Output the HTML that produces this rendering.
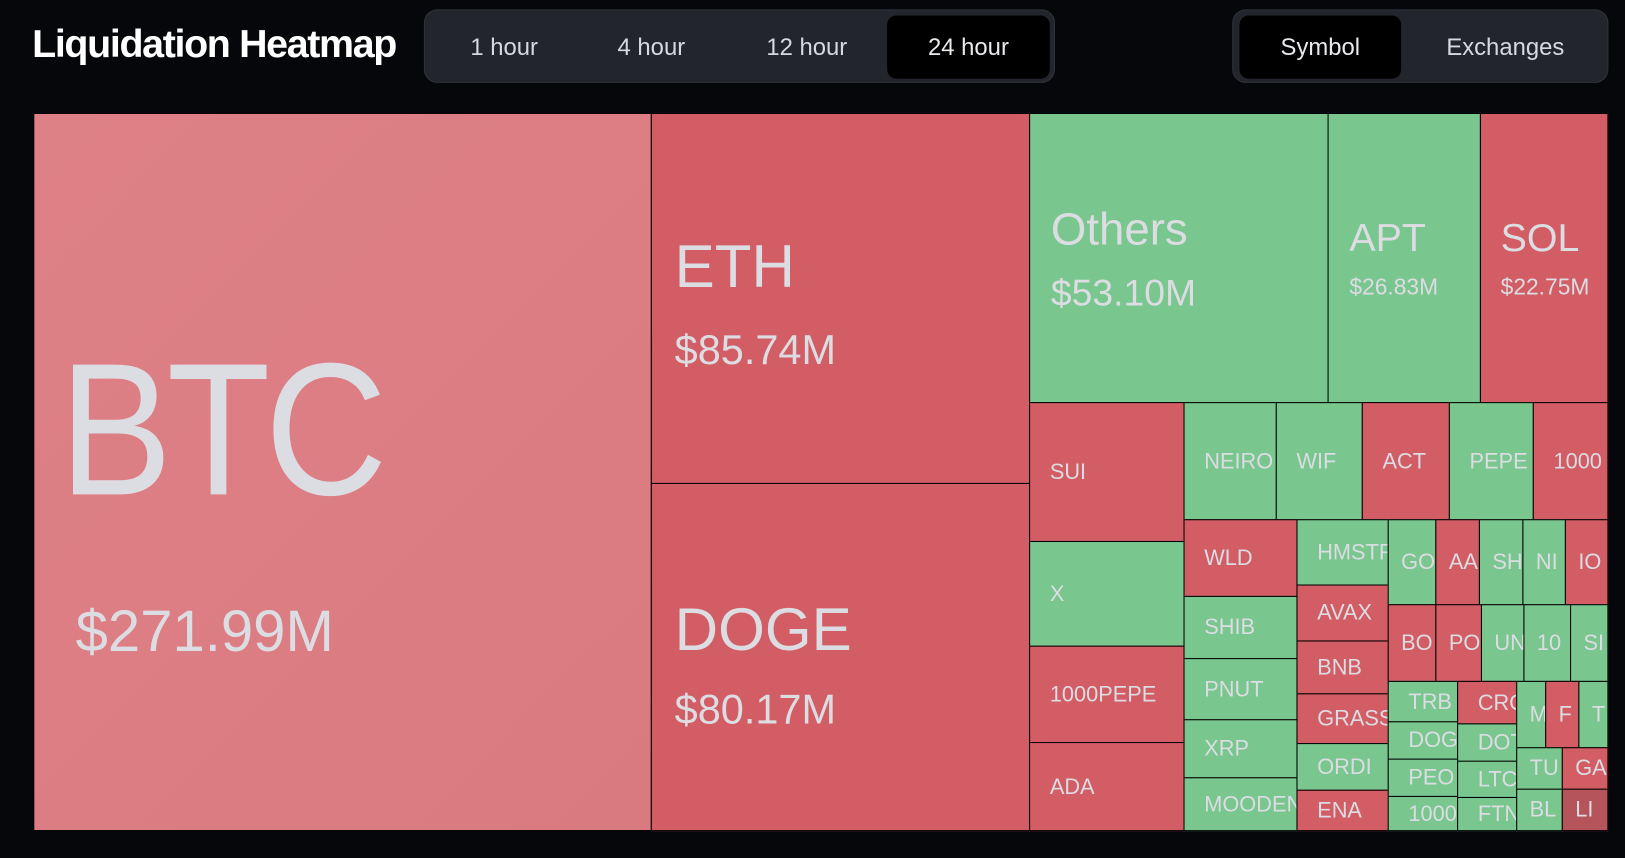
<!DOCTYPE html>
<html><head><meta charset="utf-8"><style>
html,body{margin:0;padding:0;background:#05070b;width:1625px;height:858px;overflow:hidden;font-family:"Liberation Sans",sans-serif}
#wrap{position:absolute;left:0;top:0;width:1568px;height:828px;transform:scale(1.03635);transform-origin:0 0}
.title{position:absolute;left:31px;top:22px;color:#fff;font-weight:bold;font-size:38px;letter-spacing:-1.3px}
.pill{position:absolute;background:#22252c;border:1px solid #30333a;border-radius:13px;box-sizing:border-box}
.btn{position:absolute;color:#d7d9de;font-size:23px;text-align:center;line-height:61px;top:5px;height:61px;border-radius:9px}
.btn.on{background:#000;color:#e8e9ec}
#map{position:absolute;left:0;top:0}
.cell{position:absolute;box-sizing:border-box;border:1px solid #000;overflow:hidden;color:#dcdde3;white-space:nowrap}
.lbl{position:absolute;left:19px}
</style></head><body>
<div id="wrap">
<div class="title">Liquidation Heatmap</div>
<div class="pill" style="left:409px;top:9px;width:609px;height:71px">
 <div class="btn" style="left:18px;width:117px">1 hour</div>
 <div class="btn" style="left:160px;width:117px">4 hour</div>
 <div class="btn" style="left:305px;width:127px">12 hour</div>
 <div class="btn on" style="left:446px;width:157px">24 hour</div>
</div>
<div class="pill" style="left:1189px;top:9px;width:363px;height:71px">
 <div class="btn on" style="left:6px;width:156px">Symbol</div>
 <div class="btn" style="left:180px;width:165px">Exchanges</div>
</div>
<div id="map"></div>
</div>
<script>
// symbol names, liquidation values (M$), direction (L = long red, S = short green)
const symbols = ["BTC","ETH","DOGE","Others","APT","SOL","SUI","X","1000PEPE","ADA","NEIRO","WIF","ACT","PEPE","1000SATS","WLD","SHIB","PNUT","XRP","MOODENG","HMSTR","AVAX","BNB","GRASS","ORDI","ENA","GOAT","AAVE","SHIB2","NEAR","IO","BOME","POL","UNI","1000BONK","SAND","TRB","DOGS","PEOPLE","1000LUNC","CRO","DOT","LTC","FTM","MEME","FIL","TIA","TURBO","GALA","BLUR","LINK"];
const values = [271.99,85.74,80.17,53.10,26.83,22.75];
const sides = ["Lb","L","L","S","S","L","L","S","L","L","S","S","L","S","L","L","S","S","S","S","S","L","L","L","S","L","S","L","S","S","L","L","L","S","S","S","S","S","S","S","L","S","S","S","S","L","S","S","L","S","Ld"];
const shown = ["BTC","ETH","DOGE","Others","APT","SOL","SUI","X","1000PEPE","ADA","NEIRO","WIF","ACT","PEPE","1000","WLD","SHIB","PNUT","XRP","MOODEN","HMSTR","AVAX","BNB","GRASS","ORDI","ENA","GO","AA","SH","NI","IO","BO","PO","UN","10","SI","TRB","DOG","PEO","1000","CRO","DOT","LTC","FTN","M","F","T","TU","GA","BL","LI"];
// layout rectangles [x0,y0,x1,y1] (treemap geometry)
const rects = [[32,109,628,801],[628,109,993,466],[628,466,993,801],[993,109,1281,388],[1281,109,1428,388],[1428,109,1551,388],
[993,388,1142,522],[993,522,1142,623],[993,623,1142,716],[993,716,1142,801],
[1142,388,1231,501],[1231,388,1314,501],[1314,388,1398,501],[1398,388,1479,501],[1479,388,1551,501],
[1142,501,1251,575],[1142,575,1251,635],[1142,635,1251,694],[1142,694,1251,750],[1142,750,1251,801],
[1251,501,1339,564],[1251,564,1339,618],[1251,618,1339,669],[1251,669,1339,717],[1251,717,1339,762],[1251,762,1339,801],
[1339,501,1385,583],[1385,501,1427,583],[1427,501,1469,583],[1469,501,1510,583],[1510,501,1551,583],
[1339,583,1385,657],[1385,583,1429,657],[1429,583,1470,657],[1470,583,1515,657],[1515,583,1551,657],
[1339,657,1406,696],[1339,696,1406,732],[1339,732,1406,768],[1339,768,1406,801],
[1406,657,1463,698],[1406,698,1463,734],[1406,734,1463,769],[1406,769,1463,801],
[1463,657,1491,721],[1491,657,1523,721],[1523,657,1551,721],
[1463,721,1507,761],[1507,721,1551,761],[1463,761,1507,801],[1507,761,1551,801]];
const colorOf = {Lb:"#dc7e84",L:"#d35d64",S:"#79c68e",Ld:"#b5545b"};
// big-cell label styles: [nameSize, nameTop, valSize, valTop, left]
const bigStyle = [[182,322,56,580,62],[58,228,40,317,22],[58,578,40,664,22],[44,199,36,264,20],[38,210,22,265,20],[38,210,22,265,19]];
const map = document.getElementById('map');
for (let i = 0; i < rects.length; i++) {
  const r = rects[i];
  const c = document.createElement('div');
  c.className = 'cell';
  
  
  c.style.left = r[0] + 'px'; c.style.top = r[1] + 'px';
  c.style.width = (r[2] - r[0] + 1) + 'px'; c.style.height = (r[3] - r[1] + 1) + 'px';
  c.style.background = colorOf[sides[i]];
  if (i < values.length) {
    const s = bigStyle[i];
    if (i === 0) c.style.background = 'linear-gradient(135deg,#de8187,#d97a80)';
    const n = document.createElement('div');
    n.className = 'lbl';
    
    
    n.style.left = (s[4] - (i === 0 ? 38 : 0)) + 'px'; n.style.top = (s[1] - r[1]) + 'px'; n.style.fontSize = s[0] + 'px';
    n.style.lineHeight = '1'; n.textContent = shown[i];
    if (i === 0) { n.style.transform = 'scaleX(0.9)'; n.style.transformOrigin = '0 0'; n.style.letterSpacing = '-6px'; }
    c.appendChild(n);
    const v = document.createElement('div');
    v.className = 'lbl';
    
    
    v.style.left = (s[4] - (i === 0 ? 22 : 0)) + 'px'; v.style.top = (s[3] - r[1]) + 'px'; v.style.fontSize = s[2] + 'px';
    v.style.lineHeight = '1'; v.textContent = '$' + values[i].toFixed(2) + 'M';
    c.appendChild(v);
  } else {
    const n = document.createElement('div');
    n.className = 'lbl';
    
    
    const w = r[2] - r[0];
    n.style.left = (w < 50 ? 12 : 19) + 'px';
    n.style.fontSize = '21px'; n.style.lineHeight = '1';
    n.style.top = ((r[3] - r[1]) / 2 - 11) + 'px';
    n.textContent = shown[i];
    c.appendChild(n);
  }
  map.appendChild(c);
}
</script>
</body></html>
